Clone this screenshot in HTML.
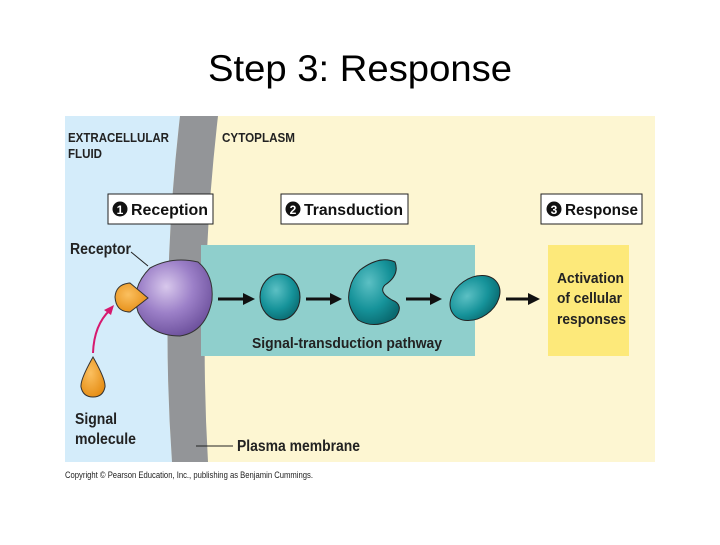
<!DOCTYPE html>
<html><head><style>
body{margin:0;width:720px;height:540px;background:#fff;overflow:hidden}
</style></head><body>
<svg width="720" height="540" xmlns="http://www.w3.org/2000/svg" font-family="Liberation Sans, sans-serif">
<defs>
<radialGradient id="pu" cx="0.4" cy="0.35" r="0.7"><stop offset="0" stop-color="#d8c8ec"/><stop offset="0.5" stop-color="#9c80c8"/><stop offset="1" stop-color="#6a4e9a"/></radialGradient>
<radialGradient id="te" cx="0.4" cy="0.35" r="0.7"><stop offset="0" stop-color="#5cc0c4"/><stop offset="0.6" stop-color="#16939a"/><stop offset="1" stop-color="#0a6a70"/></radialGradient>
<radialGradient id="or" cx="0.4" cy="0.4" r="0.7"><stop offset="0" stop-color="#fbc060"/><stop offset="1" stop-color="#e48a10"/></radialGradient>
</defs>
<text x="360" y="81" text-anchor="middle" font-size="37" textLength="304" lengthAdjust="spacingAndGlyphs" fill="#000">Step 3: Response</text>
<rect x="65" y="116" width="590" height="346" fill="#fdf6d2"/>
<path d="M65 116 H180 Q160 290 172 462 H65 Z" fill="#d4ecfa"/>
<path d="M180 116 H218 Q198 290 208 462 H172 Q160 290 180 116 Z" fill="#939598"/>
<g font-weight="bold" font-size="13" fill="#222" lengthAdjust="spacingAndGlyphs">
<text x="68" y="142" textLength="101" lengthAdjust="spacingAndGlyphs">EXTRACELLULAR</text><text x="68" y="158" textLength="34" lengthAdjust="spacingAndGlyphs">FLUID</text>
<text x="222" y="142" textLength="73" lengthAdjust="spacingAndGlyphs">CYTOPLASM</text>
</g>
<rect x="108" y="194" width="105" height="30" fill="#fff" stroke="#222"/>
<rect x="281" y="194" width="127" height="30" fill="#fff" stroke="#222"/>
<rect x="541" y="194" width="101" height="30" fill="#fff" stroke="#222"/>
<g font-weight="bold" font-size="16" fill="#111">
<circle cx="120" cy="209" r="7.5" fill="#111"/><text x="120" y="214" font-size="12" fill="#fff" text-anchor="middle">1</text><text x="131" y="215" textLength="77" lengthAdjust="spacingAndGlyphs">Reception</text>
<circle cx="293" cy="209" r="7.5" fill="#111"/><text x="293" y="214" font-size="12" fill="#fff" text-anchor="middle">2</text><text x="304" y="215" textLength="99" lengthAdjust="spacingAndGlyphs">Transduction</text>
<circle cx="554" cy="209" r="7.5" fill="#111"/><text x="554" y="214" font-size="12" fill="#fff" text-anchor="middle">3</text><text x="565" y="215" textLength="73" lengthAdjust="spacingAndGlyphs">Response</text>
</g>
<rect x="201" y="245" width="274" height="111" fill="#8fcfcc"/>
<rect x="548" y="245" width="81" height="111" fill="#fde97a"/>
<path d="M150 268 Q172 256 198 262 Q214 275 212 300 Q206 332 180 336 Q150 336 138 312 Q130 288 150 268 Z" fill="url(#pu)" stroke="#333"/>
<path d="M148 298 L130 283 Q116 284 115 297 Q116 312 130 312 Z" fill="url(#or)" stroke="#333"/>
<line x1="131" y1="252" x2="148" y2="266" stroke="#222"/>
<text x="70" y="254" font-weight="bold" font-size="16" fill="#222" textLength="61" lengthAdjust="spacingAndGlyphs">Receptor</text>
<path d="M93 353 Q94 325 110 310" fill="none" stroke="#d6186e" stroke-width="2"/>
<path d="M114 305 L104 310 L111 315 Z" fill="#d6186e"/>
<path d="M93 357 Q80 380 81 387 Q83 397 93 397 Q103 397 105 387 Q106 380 93 357 Z" fill="url(#or)" stroke="#333"/>
<g font-weight="bold" font-size="16" fill="#222">
<text x="75" y="424" textLength="42" lengthAdjust="spacingAndGlyphs">Signal</text><text x="75" y="444" textLength="61" lengthAdjust="spacingAndGlyphs">molecule</text>
<text x="237" y="451" textLength="123" lengthAdjust="spacingAndGlyphs">Plasma membrane</text>
<text x="252" y="348" font-size="15" textLength="190" lengthAdjust="spacingAndGlyphs">Signal-transduction pathway</text>
<text x="557" y="283" font-size="15" textLength="67" lengthAdjust="spacingAndGlyphs">Activation</text><text x="557" y="303" font-size="15" textLength="65" lengthAdjust="spacingAndGlyphs">of cellular</text><text x="557" y="324" font-size="15" textLength="69" lengthAdjust="spacingAndGlyphs">responses</text>
</g>
<line x1="196" y1="446" x2="233" y2="446" stroke="#222"/>
<ellipse cx="280" cy="297" rx="20" ry="23" fill="url(#te)" stroke="#222"/>
<path d="M360 270 Q380 255 395 262 Q400 275 385 285 Q378 292 392 300 Q405 305 395 318 Q375 330 358 320 Q345 305 350 288 Q352 278 360 270 Z" fill="url(#te)" stroke="#222"/>
<ellipse cx="475" cy="298" rx="27" ry="20" transform="rotate(-35 475 298)" fill="url(#te)" stroke="#222"/>
<g fill="#111" stroke="#111" stroke-width="3">
<line x1="218" y1="299" x2="245" y2="299"/><path d="M255 299 L243 293 L243 305 Z" stroke="none"/>
<line x1="306" y1="299" x2="332" y2="299"/><path d="M342 299 L330 293 L330 305 Z" stroke="none"/>
<line x1="406" y1="299" x2="432" y2="299"/><path d="M442 299 L430 293 L430 305 Z" stroke="none"/>
<line x1="506" y1="299" x2="530" y2="299"/><path d="M540 299 L528 293 L528 305 Z" stroke="none"/>
</g>
<text x="65" y="478" font-size="9" fill="#222" textLength="248" lengthAdjust="spacingAndGlyphs">Copyright © Pearson Education, Inc., publishing as Benjamin Cummings.</text>
</svg>
</body></html>
